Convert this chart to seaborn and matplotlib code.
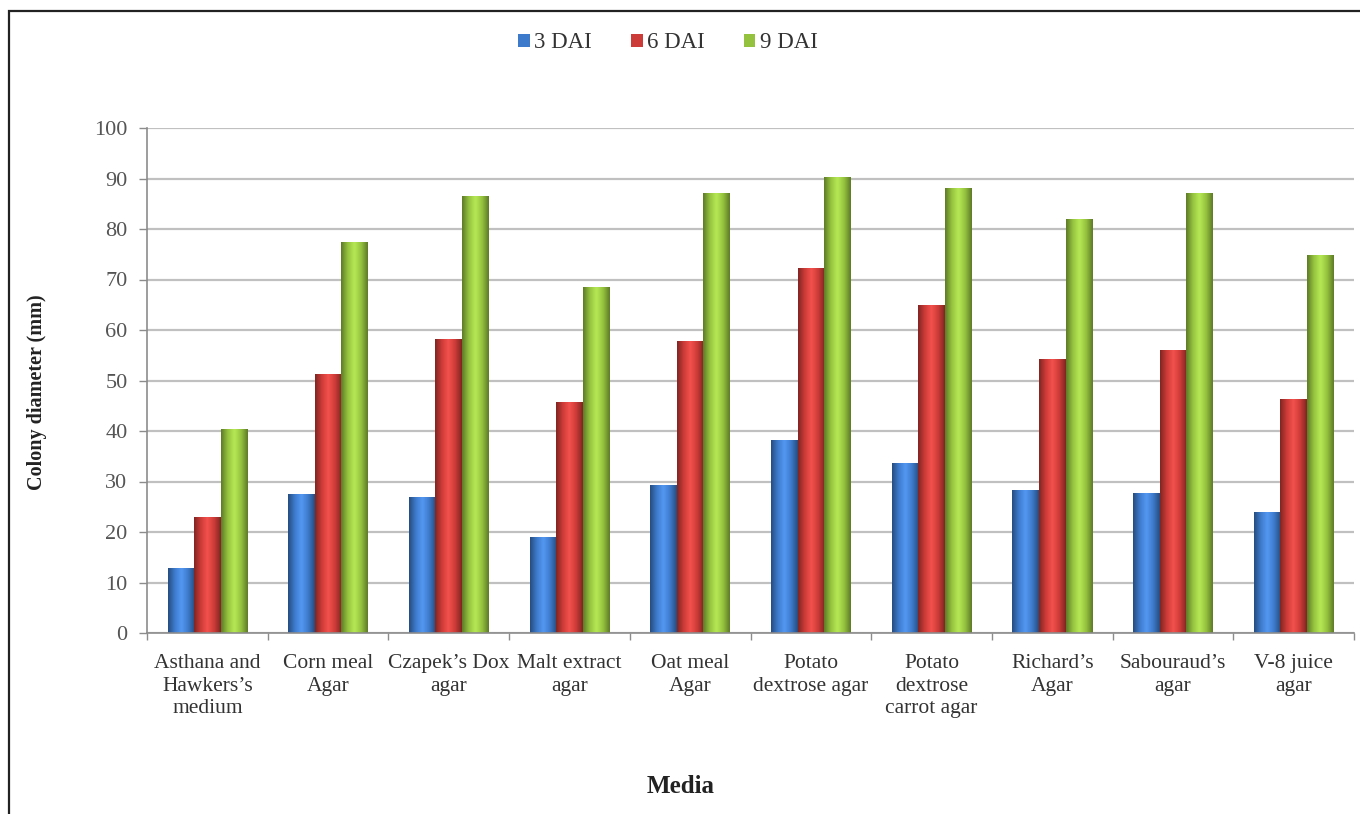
import numpy as np
import pandas as pd
import matplotlib
matplotlib.use("Agg")
import matplotlib.pyplot as plt
import seaborn as sns
from matplotlib.colors import LinearSegmentedColormap, to_rgb
from matplotlib.patches import Rectangle
from matplotlib.ticker import FixedLocator

# Colony diameter (mm) of the fungus on different media, days after inoculation
media = [
    "Asthana and\nHawkers\u2019s\nmedium",
    "Corn meal\nAgar",
    "Czapek\u2019s Dox\nagar",
    "Malt extract\nagar",
    "Oat meal\nAgar",
    "Potato\ndextrose agar",
    "Potato\ndextrose\ncarrot agar",
    "Richard\u2019s\nAgar",
    "Sabouraud\u2019s\nagar",
    "V-8 juice\nagar",
]
series_names = ["3 DAI", "6 DAI", "9 DAI"]
dai3 = [12.8, 27.6, 27.0, 19.1, 29.3, 38.2, 33.7, 28.3, 27.7, 24.0]
dai6 = [23.0, 51.3, 58.3, 45.8, 57.8, 72.2, 64.9, 54.3, 56.1, 46.3]
dai9 = [40.3, 77.4, 86.5, 68.6, 87.2, 90.3, 88.2, 81.9, 87.2, 74.9]
y_ticks = [0, 10, 20, 30, 40, 50, 60, 70, 80, 90, 100]

df = pd.DataFrame({
    "Media": media * 3,
    "Colony diameter (mm)": dai3 + dai6 + dai9,
    "Day": [series_names[0]] * 10 + [series_names[1]] * 10 + [series_names[2]] * 10,
})

base_colors = ["#3d7acb", "#cc3b37", "#95c23e"]
palette = dict(zip(series_names, base_colors))

sns.set_theme(style="white")
plt.rcParams["font.family"] = ["Liberation Serif", "DejaVu Serif"]

fig = plt.figure(figsize=(13.6, 8.14), dpi=100)
ax = fig.add_axes([147 / 1360, 1 - 633 / 814, (1354 - 147) / 1360, (633 - 128) / 814])

sns.barplot(data=df, x="Media", y="Colony diameter (mm)", hue="Day",
            palette=palette, width=0.66, saturation=1, ax=ax,
            edgecolor="none", linewidth=0, errorbar=None)

# Cylinder-like shading on every bar
def shade_cmap(c):
    r, g, b = to_rgb(c)
    dark = (r * 0.62, g * 0.62, b * 0.62)
    light = tuple(min(1, v * 1.12 + 0.06) for v in (r, g, b))
    return LinearSegmentedColormap.from_list(
        "s", [dark, (r, g, b), light, (r, g, b), dark], N=256)

cmaps = [shade_cmap(c) for c in base_colors]
grad = np.linspace(0, 1, 256).reshape(1, -1)
for i, container in enumerate(ax.containers):
    for patch in container:
        x0 = patch.get_x()
        w = patch.get_width()
        h = patch.get_height()
        im = ax.imshow(grad, cmap=cmaps[i], aspect="auto",
                       extent=[x0, x0 + w, 0, h], zorder=2.5,
                       interpolation="bicubic")
        im.set_clip_path(patch)

ax.set_xlim(-0.5, len(media) - 0.5)
ax.set_ylim(0, 100)
ax.yaxis.set_major_locator(FixedLocator(y_ticks))
ax.set_axisbelow(True)
ax.grid(axis="y", color="#c0c0c0", linewidth=1.6)
ax.grid(axis="x", visible=False)

for s in ["top", "right"]:
    ax.spines[s].set_visible(False)
for s in ["left", "bottom"]:
    ax.spines[s].set_color("#8c8c8c")
    ax.spines[s].set_linewidth(1.2)

ax.tick_params(axis="y", which="major", left=True, length=6, width=1.0,
               color="#8c8c8c", labelsize=16, labelcolor="#555555", pad=8)
ax.set_xticks(range(len(media)))
ax.set_xticklabels(media, linespacing=1.27)
ax.tick_params(axis="x", which="major", bottom=False, labelsize=15.5,
               labelcolor="#333333", pad=9)
ax.xaxis.set_minor_locator(FixedLocator(np.arange(-0.5, len(media), 1.0)))
ax.tick_params(axis="x", which="minor", bottom=True, length=5, width=1.0,
               color="#8c8c8c")

ax.set_xlabel("Media", fontsize=18, fontweight="bold", color="#222222")
ax.set_ylabel("Colony diameter (mm)", fontsize=14.5, fontweight="bold",
              color="#222222")
ax.xaxis.set_label_coords(0.442, -0.281)
ax.yaxis.set_label_coords(-0.091, 0.477)
ax.yaxis.label.set_verticalalignment("center")

leg = ax.legend(loc="center", bbox_to_anchor=(668 / 1360, 1 - 43 / 814),
                bbox_transform=fig.transFigure, ncol=3, frameon=False,
                fontsize=16.5, handlelength=0.5, handleheight=0.5,
                handletextpad=0.2, columnspacing=1.7, title=None)
for t in leg.get_texts():
    t.set_color("#333333")

# Outer chart frame
fig.add_artist(Rectangle((9 / 1360, -0.05), 1.2, 1 - 11 / 814 + 0.05,
                         transform=fig.transFigure, fill=False,
                         edgecolor="#222222", linewidth=1.6))

fig.savefig("out.png", dpi=100, facecolor="white")
